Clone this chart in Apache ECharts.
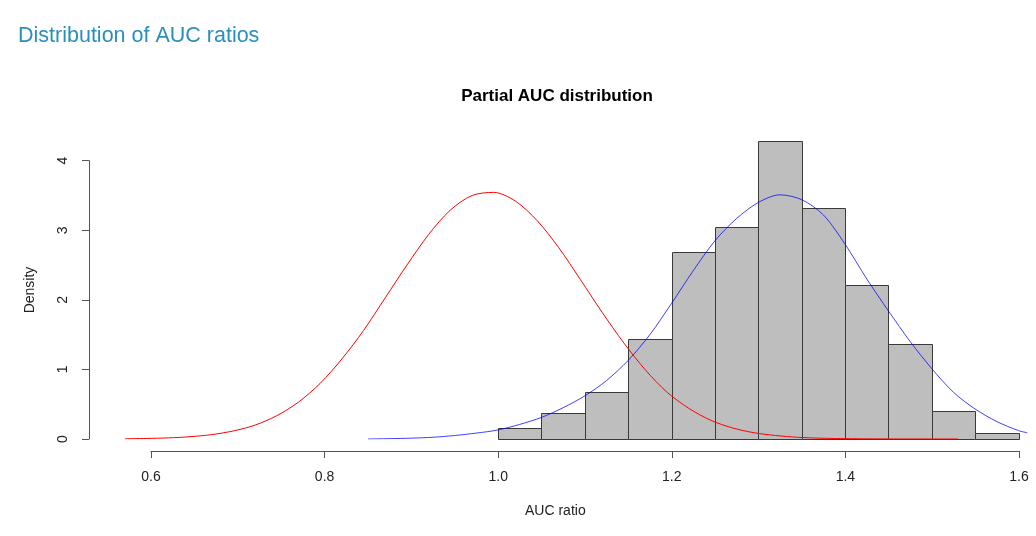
<!DOCTYPE html>
<html>
<head>
<meta charset="utf-8">
<script src="https://cdn.jsdelivr.net/npm/echarts@6/dist/echarts.min.js"></script>
<style>
html,body{margin:0;padding:0;background:#fff;}
#main{width:1036px;height:536px;}
</style>
</head>
<body>
<div id="main"></div>
<script>
// Histogram bins (AUC ratio) and densities
const binEdges = [1.00,1.05,1.10,1.15,1.20,1.25,1.30,1.35,1.40,1.45,1.50,1.55,1.60];
const binDensity = [0.16,0.37,0.68,1.44,2.69,3.05,4.29,3.32,2.21,1.36,0.40,0.09];

// Red density curve
const redX = [0.570,0.595,0.620,0.645,0.670,0.695,0.720,0.745,0.770,0.795,0.820,0.845,0.870,0.895,0.920,0.945,0.970,0.995,1.020,1.045,1.070,1.095,1.120,1.145,1.170,1.195,1.220,1.245,1.270,1.295,1.320,1.345,1.370,1.395,1.420,1.445,1.470,1.500,1.530];
const redY = [0.003,0.008,0.016,0.033,0.063,0.116,0.200,0.335,0.530,0.800,1.150,1.560,2.030,2.500,2.940,3.290,3.500,3.545,3.420,3.140,2.750,2.290,1.820,1.380,0.990,0.670,0.440,0.270,0.160,0.090,0.050,0.025,0.012,0.006,0.003,0.001,0.000,0.000,0.000];

// Blue density curve
const blueX = [0.850,0.875,0.900,0.925,0.950,0.975,1.000,1.025,1.050,1.075,1.100,1.125,1.150,1.175,1.200,1.225,1.250,1.275,1.300,1.325,1.350,1.375,1.400,1.425,1.450,1.475,1.500,1.525,1.550,1.575,1.600,1.610];
const blueY = [0.000,0.005,0.012,0.025,0.050,0.085,0.130,0.210,0.310,0.450,0.620,0.840,1.130,1.500,1.950,2.420,2.850,3.170,3.400,3.510,3.440,3.220,2.800,2.300,1.840,1.400,1.010,0.670,0.430,0.250,0.120,0.090];

// Axis ticks
const xTicks = [0.6,0.8,1.0,1.2,1.4,1.6];
const yTicks = [0,1,2,3,4];

const font = '"Liberation Sans", Arial, Helvetica, sans-serif';

const histData = binDensity.map((d,i)=>[binEdges[i], binEdges[i+1], d]);
const redData = redX.map((x,i)=>[x, redY[i]]);
const blueData = blueX.map((x,i)=>[x, blueY[i]]);

const chart = echarts.init(document.getElementById('main'), null, {renderer:'canvas'});

const option = {
  animation: false,
  backgroundColor: '#ffffff',
  textStyle: {fontFamily: font},
  title: [
    {text: 'Distribution of AUC ratios', left: 18, top: 25, padding: 0,
     textStyle: {fontFamily: font, fontSize: 21.5, fontWeight: 'normal', color: '#2a8fbd'}},
    {text: 'Partial AUC distribution', left: 557, top: 88, textAlign: 'center', padding: 0,
     textStyle: {fontFamily: font, fontSize: 17, fontWeight: 'bold', color: '#000'}}
  ],
  graphic: [
    {type: 'text', left: 557 - 32, top: 504,
     style: {text: 'AUC ratio', font: '14px ' + font, fill: '#222'}},
    {type: 'text', x: 30, y: 290, rotation: Math.PI / 2,
     style: {text: 'Density', font: '14px ' + font, fill: '#222', align: 'center', verticalAlign: 'middle'}}
  ],
  grid: [
    {left: 107.6, top: 132.9, width: 928.8, height: 306.1, containLabel: false},
    {left: 151, top: 450, width: 868, height: 1, containLabel: false},
    {left: 89, top: 160.7, width: 1, height: 278.3, containLabel: false}
  ],
  xAxis: [
    {type: 'value', gridIndex: 0, min: 0.55, max: 1.62, show: false},
    {type: 'value', gridIndex: 1, min: 0.6, max: 1.6, interval: 0.2,
     axisLine: {show: true, lineStyle: {color: '#555', width: 1}},
     axisTick: {show: true, length: 7, lineStyle: {color: '#555'}},
     splitLine: {show: false},
     axisLabel: {show: true, margin: 19, fontFamily: font, fontSize: 14, color: '#222',
       formatter: v => v.toFixed(1)}},
    {type: 'value', gridIndex: 2, min: 0, max: 1, show: false}
  ],
  yAxis: [
    {type: 'value', gridIndex: 0, min: 0, max: 4.4, show: false},
    {type: 'value', gridIndex: 1, min: 0, max: 1, show: false},
    {type: 'value', gridIndex: 2, min: 0, max: 4, interval: 1,
     axisLine: {show: true, lineStyle: {color: '#555', width: 1}},
     axisTick: {show: true, length: 7, lineStyle: {color: '#555'}},
     splitLine: {show: false},
     axisLabel: {show: true, rotate: 90, margin: 19, fontFamily: font, fontSize: 14, color: '#222'}}
  ],
  series: [
    {
      type: 'custom', xAxisIndex: 0, yAxisIndex: 0, z: 2,
      data: histData,
      encode: {x: [0,1], y: 2},
      renderItem: function(params, api){
        const p0 = api.coord([api.value(0), api.value(2)]);
        const p1 = api.coord([api.value(1), 0]);
        return {
          type: 'rect',
          shape: {x: Math.round(p0[0]) + 0.5, y: Math.round(p0[1]) + 0.5,
                  width: Math.round(p1[0]) - Math.round(p0[0]), height: Math.round(p1[1]) - Math.round(p0[1])},
          style: {fill: '#bebebe', stroke: '#3a3a3a', lineWidth: 1}
        };
      }
    },
    {type: 'line', xAxisIndex: 0, yAxisIndex: 0, z: 3, data: redData, showSymbol: false, smooth: 0.3,
     lineStyle: {color: '#ff0000', width: 1}, silent: true},
    {type: 'line', xAxisIndex: 0, yAxisIndex: 0, z: 3, data: blueData, showSymbol: false, smooth: 0.3,
     lineStyle: {color: '#0000ff', width: 1, opacity: 0.75}, silent: true}
  ]
};
chart.setOption(option);
</script>
</body>
</html>
